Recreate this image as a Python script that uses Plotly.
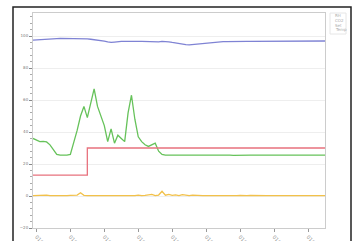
import plotly.graph_objects as go

# ---- data ----
n_points = 87
x_idx = list(range(n_points))

blue = [97.5, 97.7, 97.9, 98.0, 98.1, 98.2, 98.3, 98.4, 98.5, 98.5,
        98.6, 98.6, 98.5, 98.5, 98.4, 98.3, 98.2, 98.0, 97.8, 97.5,
        97.2, 96.8, 96.3, 96.0, 96.2, 96.5, 96.6, 96.6, 96.5, 96.4,
        96.5, 96.6, 96.7, 96.6, 96.4, 96.2, 96.0, 96.3, 96.6, 96.6,
        96.4, 96.0, 95.6, 95.2, 94.8, 94.6, 94.5, 94.7, 95.0, 95.3,
        95.6, 95.9, 96.1, 96.2, 96.3, 96.4, 96.5, 96.5, 96.6, 96.6,
        96.6, 96.7, 96.7, 96.7, 96.6, 96.6, 96.7, 96.7, 96.8, 96.8,
        96.7, 96.7, 96.6, 96.6, 96.7, 96.8, 96.8, 96.8, 96.7, 96.7,
        96.8, 96.8, 96.9, 96.9, 96.8, 96.8, 96.9]

green = [36.0, 35.0, 34.0, 34.2, 33.8, 32.0, 29.0, 26.0, 25.5, 25.4,
         25.5, 26.0, 33.0, 41.0, 50.0, 56.0, 49.0, 58.0, 67.0, 56.0,
         50.0, 44.0, 34.0, 42.0, 33.0, 38.0, 36.0, 34.0, 52.0, 63.0,
         48.0, 37.0, 34.0, 32.0, 31.0, 32.0, 33.0, 28.0, 26.0, 25.6,
         25.5, 25.4, 25.5, 25.6, 25.5, 25.5, 25.4, 25.5, 25.5, 25.6,
         25.5, 25.5, 25.4, 25.5, 25.5, 25.5, 25.6, 25.5, 25.5, 25.4,
         25.5, 25.5, 25.5, 25.6, 25.5, 25.5, 25.5, 25.4, 25.5, 25.5,
         25.6, 25.5, 25.5, 25.5, 25.4, 25.5, 25.5, 25.6, 25.5, 25.5,
         25.5, 25.4, 25.5, 25.5, 25.6, 25.5, 25.5]

red = [13.0] * 16 + [30.0] * 71

yellow = [0.3, 0.4, 0.2, 0.3, 0.5, 0.3, 0.2, 0.4, 0.3, 0.3,
          0.2, 0.4, 0.3, 0.6, 2.0, 0.4, 0.3, 0.2, 0.3, 0.4,
          0.3, 0.3, 0.2, 0.3, 0.4, 0.3, 0.3, 0.2, 0.4, 0.3,
          0.3, 0.5, 0.2, 0.4, 0.8, 1.0, 0.3, 0.6, 3.0, 0.5,
          1.0, 0.4, 0.7, 0.3, 0.9, 0.4, 0.3, 0.5, 0.3, 0.4,
          0.3, 0.3, 0.2, 0.3, 0.4, 0.3, 0.3, 0.2, 0.4, 0.3,
          0.3, 0.4, 0.2, 0.3, 0.4, 0.3, 0.3, 0.2, 0.4, 0.3,
          0.3, 0.4, 0.3, 0.3, 0.2, 0.3, 0.4, 0.3, 0.3, 0.2,
          0.4, 0.3, 0.3, 0.4, 0.3, 0.3, 0.3]

tick_positions = [1, 11, 21, 31, 41, 51, 61, 71, 81]
tick_labels = ["01/03", "01/04", "01/05", "01/06", "01/07",
               "01/08", "01/09", "01/10", "01/11"]

y_ticks = [-20, 0, 20, 40, 60, 80, 100]

series_names = ["RH", "CO2", "Set", "Temp"]
series_colors = ["#7f83d4", "#66c25a", "#e8727e", "#f2c14a"]
series_values = [blue, green, red, yellow]
series_shapes = ["linear", "linear", "hv", "linear"]

fig = go.Figure()
for name, vals, col, shape in zip(series_names, series_values, series_colors, series_shapes):
    fig.add_trace(go.Scatter(x=x_idx, y=vals, mode="lines", name=name,
                             line=dict(color=col, width=1.3, shape=shape)))

W, H = 357, 241
L, R, T, B = 33, 32, 13, 13
pw, ph = W - L - R, H - T - B


def px_x(p):
    return (p - L) / pw


def px_y(p):
    return (H - B - p) / ph


# compact custom legend (tiny gray text in a light box, top right)
annotations = []
for i, name in enumerate(series_names):
    annotations.append(dict(
        xref="paper", yref="paper", x=px_x(333), y=px_y(16 + i * 4.5),
        xanchor="left", yanchor="middle", showarrow=False, text=name,
        font=dict(size=4, color="#aaaaaa", family="DejaVu Sans")))

fig.update_layout(
    width=W, height=H,
    margin=dict(l=L, r=R, t=T, b=B, autoexpand=False),
    paper_bgcolor="white", plot_bgcolor="white",
    showlegend=False,
    annotations=annotations,
    xaxis=dict(range=[0, n_points - 1], tickvals=tick_positions, ticktext=tick_labels,
               tickangle=45, tickfont=dict(size=5, color="#888888", family="DejaVu Sans"),
               ticks="outside", ticklen=3, tickcolor="#999999",
               showgrid=False, zeroline=False, showline=True, linecolor="#cccccc",
               mirror=True, automargin=False),
    yaxis=dict(range=[-20, 114.4], tickvals=y_ticks,
               tickfont=dict(size=4, color="#777777", family="DejaVu Sans"),
               ticks="outside", ticklen=3, tickcolor="#888888",
               minor=dict(ticks="outside", ticklen=2, dtick=4, tickcolor="#aaaaaa",
                          showgrid=False),
               showgrid=True, gridcolor="#eeeeee", gridwidth=1,
               zeroline=False, showline=True, linecolor="#cccccc", mirror=True,
               automargin=False),
    shapes=[
        dict(type="rect", xref="paper", yref="paper",
             x0=px_x(13), x1=px_x(351), y0=px_y(250), y1=px_y(7),
             line=dict(color="#222222", width=1.5), fillcolor="rgba(0,0,0,0)"),
        dict(type="rect", xref="paper", yref="paper",
             x0=px_x(330), x1=px_x(346), y0=px_y(34), y1=px_y(13),
             line=dict(color="#e6e6e6", width=1), fillcolor="rgba(0,0,0,0)"),
    ],
)

fig.write_html("out.html", config={"displayModeBar": False},
               post_script="document.body.style.margin='0';document.body.style.overflow='hidden';")
